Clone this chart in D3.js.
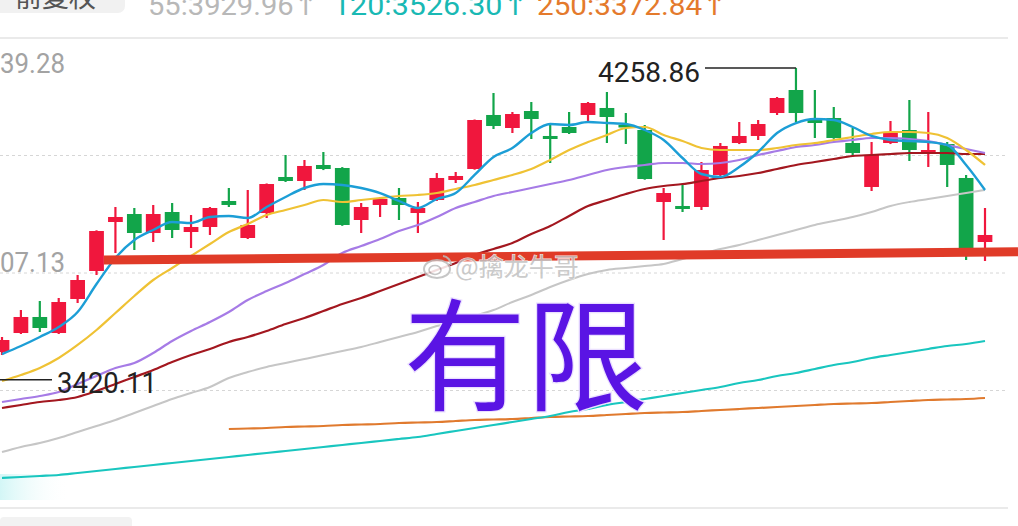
<!DOCTYPE html>
<html><head><meta charset="utf-8">
<script src="https://cdn.jsdelivr.net/npm/d3@7"></script>
<style>html,body{margin:0;padding:0;background:#fff;overflow:hidden}</style>
</head><body><svg id="c" width="1018" height="526"></svg>
<script>
// ---------- data ----------
const candleOpen = [3494.6,3545.7,3588.8,3545.7,3637.2,3712.5,3844.3,3865.8,3814.7,3871.2,3817.4,3830.9,3900.8,3801.3,3868.5,3965.4,3954.6,3997.7,3989.6,3849.7,3890.1,3908.9,3868.5,3903.5,3957.3,3986.9,4132.2,4097.2,4142.9,4075.7,4099.9,4132.2,4151.0,4105.3,4091.8,3898.1,3887.4,3884.7,3970.8,4056.8,4075.7,4137.5,4199.4,4121.4,4124.1,4056.8,3938.5,4056.8,4091.8,4032.6,4054.1,3962.7,3790.5];
const candleHigh = [3535.0,3607.6,3631.8,3639.9,3701.8,3822.0,3884.7,3882.0,3890.1,3895.4,3863.2,3884.7,3935.8,3930.4,3948.0,4024.6,4011.1,4032.6,3992.0,3895.4,3911.6,3935.8,3898.1,3976.1,3978.8,4120.0,4191.3,4140.2,4167.1,4110.6,4140.2,4167.1,4194.0,4137.5,4105.3,3935.8,3943.9,4005.7,4056.8,4113.3,4118.7,4180.6,4258.86,4199.4,4153.7,4097.2,4059.5,4116.0,4172.5,4140.2,4059.5,3970.8,3882.0];
const candleLow = [3486.6,3543.0,3548.4,3543.0,3626.4,3701.8,3760.9,3769.0,3790.5,3801.3,3774.4,3809.4,3884.7,3798.6,3855.1,3952.0,3930.4,3984.0,3834.0,3814.7,3857.8,3849.7,3814.7,3900.8,3949.2,3985.0,4094.5,4083.7,4067.6,4003.0,4081.0,4113.3,4056.8,4054.1,3958.0,3795.9,3871.2,3876.6,3962.7,4054.0,4064.9,4132.2,4113.3,4070.3,4068.0,4021.9,3927.7,4054.0,4008.4,3992.3,3938.5,3742.1,3739.4];
const candleClose = [3526.9,3588.8,3559.2,3629.1,3688.3,3820.1,3857.8,3814.7,3865.8,3822.8,3830.9,3882.0,3890.1,3836.3,3946.5,3954.6,3995.0,3986.9,3836.3,3884.7,3906.2,3890.1,3882.0,3962.7,3968.1,4118.7,4102.6,4134.8,4121.4,4067.6,4083.7,4164.4,4126.8,4099.9,3960.0,3922.3,3879.3,3984.2,4048.8,4075.7,4107.9,4177.9,4137.5,4110.6,4070.3,4029.9,4024.6,4086.4,4038.0,4038.0,3997.7,3774.4,3809.4];

const ma5 = [3489.2,3510.8,3535.0,3561.9,3602.2,3677.5,3747.5,3795.9,3822.8,3844.3,3841.6,3857.8,3860.5,3855.1,3884.7,3911.6,3935.8,3946.5,3943.9,3935.8,3922.3,3900.8,3882.0,3906.2,3922.3,3970.8,4019.2,4043.4,4083.7,4107.9,4105.3,4113.3,4110.6,4107.9,4091.8,4064.9,4016.5,3973.4,3965.4,3992.3,4032.6,4083.7,4110.6,4121.4,4118.7,4099.9,4075.7,4064.9,4062.2,4059.5,4051.5,3997.7,3930.4];
const ma10 = [3416.6,3432.8,3451.6,3478.5,3513.5,3553.8,3599.5,3645.3,3688.3,3720.6,3752.9,3785.1,3817.4,3838.9,3863.2,3876.6,3890.1,3903.5,3898.1,3903.5,3908.9,3914.3,3917.0,3922.3,3933.1,3943.9,3957.3,3970.8,3986.9,4011.1,4038.0,4059.5,4078.4,4097.2,4099.9,4078.4,4062.2,4043.4,4038.0,4038.0,4038.0,4043.4,4051.5,4056.8,4064.9,4073.0,4081.0,4086.4,4086.4,4083.7,4070.3,4038.0,3997.7];
const ma20 = [3360.1,3368.2,3376.3,3387.0,3408.5,3430.1,3451.6,3465.0,3491.9,3524.2,3551.1,3575.3,3602.2,3634.5,3658.7,3680.2,3704.4,3728.7,3760.9,3779.8,3798.6,3820.1,3836.3,3857.8,3882.0,3898.1,3914.3,3925.0,3935.8,3946.5,3957.3,3970.8,3984.2,3992.3,3997.7,4003.0,4003.0,4000.3,4003.0,4011.1,4024.6,4035.3,4046.1,4051.5,4059.5,4064.9,4070.3,4070.3,4067.6,4062.2,4051.5,4040.7,4029.9];
const ma30 = [3344.0,3352.1,3360.1,3365.5,3373.6,3389.7,3408.5,3427.4,3446.2,3467.7,3486.6,3502.7,3521.5,3535.0,3551.1,3569.9,3586.1,3604.9,3623.7,3639.9,3658.7,3677.5,3696.4,3715.2,3734.0,3755.6,3771.7,3787.8,3812.0,3833.6,3860.5,3887.4,3903.5,3919.6,3933.1,3941.2,3946.5,3954.6,3962.7,3968.1,3976.1,3986.9,3997.7,4005.7,4013.8,4021.9,4024.6,4027.2,4029.9,4029.9,4029.9,4027.2,4027.2];
const ma55 = [3225.6,3239.1,3249.8,3263.3,3279.4,3295.6,3311.7,3330.5,3349.4,3368.2,3384.3,3400.5,3424.7,3440.8,3454.3,3465.0,3475.8,3486.6,3497.3,3508.1,3521.5,3535.0,3548.4,3564.6,3578.0,3591.5,3607.6,3629.1,3648.0,3669.5,3688.3,3704.4,3715.2,3720.6,3726.0,3731.3,3744.8,3758.2,3771.7,3782.5,3795.9,3809.4,3822.8,3836.3,3847.0,3857.8,3871.2,3887.4,3898.1,3906.2,3914.3,3922.3,3930.4];
const ma120 = [3155.7,3158.4,3161.1,3163.8,3169.1,3174.5,3179.9,3185.3,3190.7,3196.0,3201.4,3206.8,3212.2,3217.6,3222.9,3228.3,3233.7,3239.1,3244.5,3249.8,3255.2,3260.6,3266.0,3274.0,3282.1,3290.2,3298.3,3306.3,3314.4,3322.5,3333.2,3341.3,3352.1,3360.1,3368.2,3376.3,3384.3,3392.4,3400.5,3411.2,3419.3,3430.1,3438.1,3448.9,3459.7,3467.7,3478.5,3486.6,3494.6,3502.7,3510.8,3516.1,3524.2];
const ma250 = [null,null,null,null,null,null,null,null,null,null,null,null,3287.5,3288.8,3290.2,3292.9,3294.2,3295.6,3298.3,3299.6,3300.9,3303.6,3305.0,3306.3,3309.0,3311.7,3313.0,3314.4,3317.1,3319.8,3321.1,3322.5,3325.2,3327.8,3330.5,3331.9,3333.2,3335.9,3338.6,3341.3,3344.0,3346.7,3349.4,3352.1,3354.7,3356.1,3357.4,3360.1,3362.8,3365.5,3366.8,3368.2,3370.9];

const yTicks = [4339.28, 4023.21, 3707.13, 3391.06, 3074.99];
const maHeader = ["55:3929.96\u2191", "120:3526.30\u2191", "250:3372.84\u2191"];
const headerTag = "前复权";
const peakLabel = 4258.86;
const lowLabel = 3420.11;
const supportLevel = [3742, 3764];
const bigText = "有限";
const watermark = "@擒龙牛哥";

// ---------- drawing ----------
const W = 1018, H = 526;
const svg = d3.select("#c");
const n = candleOpen.length;
const x = d3.scaleBand().domain(d3.range(n)).range([-7.45, 994.45]).paddingInner(0.22).paddingOuter(0.11);
const bw = x.bandwidth();
const cx = i => x(i) + bw / 2;
const y = d3.scaleLinear().domain([3074.99, 4339.28]).range([508, 38]);

const RED = "#f0173d", GREEN = "#12a54a";
const FONT = "Roboto, 'DejaVu Sans', sans-serif";

// header
svg.append("rect").attr("x", -10).attr("y", -20).attr("width", 135).attr("height", 33).attr("rx", 7).attr("fill", "#f1f1f1");
svg.append("text").attr("x", 96).attr("y", 7).attr("text-anchor", "end").attr("font-family", "'Noto Sans CJK SC', sans-serif")
  .attr("font-size", 27).attr("fill", "#555").text(headerTag);
const hdrColors = ["#b8b8b8", "#19b9b4", "#e47a2c"];
const hdrX = [148, 333, 537], hdrW = [170, 195, 190];
maHeader.forEach((t, k) => {
  svg.append("text").attr("x", hdrX[k]).attr("y", 15).attr("font-family", FONT).attr("font-size", 28)
    .attr("textLength", hdrW[k]).attr("lengthAdjust", "spacingAndGlyphs").attr("fill", hdrColors[k]).text(t);
});

// grid
yTicks.forEach((v, k) => {
  const solid = k === 0 || k === yTicks.length - 1;
  svg.append("line").attr("x1", 0).attr("x2", 1008).attr("y1", y(v)).attr("y2", y(v))
    .attr("stroke", solid ? "#e3e3e3" : "#d6d6d6").attr("stroke-width", solid ? 1.5 : 1)
    .attr("stroke-dasharray", solid ? null : "3,3");
});
// axis labels (cut at left edge)
svg.append("text").attr("x", -29).attr("y", y(yTicks[0]) + 35).attr("font-family", FONT).attr("font-size", 28)
  .attr("textLength", 94).attr("lengthAdjust", "spacingAndGlyphs").attr("fill", "#a3a3a3").text(yTicks[0].toFixed(2));
svg.append("text").attr("x", -29).attr("y", y(yTicks[2]) - 1).attr("font-family", FONT).attr("font-size", 28)
  .attr("textLength", 94).attr("lengthAdjust", "spacingAndGlyphs").attr("fill", "#a3a3a3").text(yTicks[2].toFixed(2));

// bottom-left artifacts
const grad = svg.append("defs").append("linearGradient").attr("id", "cy").attr("x1", 0).attr("x2", 1);
grad.append("stop").attr("offset", 0).attr("stop-color", "#c8f4f4");
grad.append("stop").attr("offset", 1).attr("stop-color", "#ffffff").attr("stop-opacity", 0);
svg.append("rect").attr("x", 0).attr("y", 474).attr("width", 70).attr("height", 26).attr("fill", "url(#cy)").attr("opacity", 0.8);
svg.append("rect").attr("x", 0).attr("y", 517).attr("width", 132).attr("height", 12).attr("rx", 4).attr("fill", "#f2f2f2");

const line = d3.line().defined(d => d != null).x((d, i) => cx(i)).y(d => y(d)).curve(d3.curveMonotoneX);
const drawMA = (arr, color, w) => svg.append("path").datum(arr).attr("d", line).attr("fill", "none")
  .attr("stroke", color).attr("stroke-width", w).attr("stroke-linejoin", "round");

drawMA(ma250, "#e07a2e", 2.2);
drawMA(ma120, "#19c6bf", 2.2);

// candles
const g = svg.append("g");
d3.range(n).forEach(i => {
  const o = candleOpen[i], c = candleClose[i];
  const col = c >= o ? RED : GREEN;
  g.append("line").attr("x1", cx(i)).attr("x2", cx(i)).attr("y1", y(candleHigh[i])).attr("y2", y(candleLow[i]))
    .attr("stroke", col).attr("stroke-width", 2.2);
  const top = y(Math.max(o, c)), bot = y(Math.min(o, c));
  g.append("rect").attr("x", x(i)).attr("y", top).attr("width", bw).attr("height", Math.max(2.5, bot - top)).attr("fill", col);
});

drawMA(ma55, "#c6c6c6", 2);
drawMA(ma30, "#a3171f", 2.2);
drawMA(ma20, "#a67be6", 2.2);
drawMA(ma10, "#efc234", 2.2);
drawMA(ma5, "#1c9ed6", 2.4);

// peak/low markers
const iPeak = candleHigh.indexOf(peakLabel);
svg.append("line").attr("x1", 705).attr("x2", cx(iPeak)).attr("y1", y(peakLabel)).attr("y2", y(peakLabel)).attr("stroke", "#222").attr("stroke-width", 1.5);
svg.append("text").attr("x", 598).attr("y", y(peakLabel) + 14).attr("font-family", FONT).attr("font-size", 28)
  .attr("textLength", 102).attr("lengthAdjust", "spacingAndGlyphs").attr("fill", "#222").text(peakLabel.toFixed(2));
svg.append("line").attr("x1", 0).attr("x2", 52).attr("y1", y(lowLabel)).attr("y2", y(lowLabel)).attr("stroke", "#222").attr("stroke-width", 1.5);
svg.append("text").attr("x", 57).attr("y", y(lowLabel) + 13).attr("font-family", FONT).attr("font-size", 29)
  .attr("textLength", 100).attr("lengthAdjust", "spacingAndGlyphs").attr("fill", "#222").text(lowLabel.toFixed(2));

// support line
svg.append("line").attr("x1", x(5) + bw).attr("x2", W).attr("y1", y(supportLevel[0])).attr("y2", y(supportLevel[1]))
  .attr("stroke", "#e03b28").attr("stroke-width", 9);

// watermark
const wm = svg.append("g").attr("opacity", 0.85);
wm.append("ellipse").attr("cx", 437).attr("cy", 269).attr("rx", 13).attr("ry", 9).attr("fill", "#fff").attr("stroke", "#bdbdbd").attr("stroke-width", 2);
wm.append("ellipse").attr("cx", 435).attr("cy", 270).attr("rx", 6).attr("ry", 4.5).attr("fill", "none").attr("stroke", "#bdbdbd").attr("stroke-width", 1.6);
wm.append("path").attr("d", "M443,256 a9,9 0 0 1 8,9").attr("fill", "none").attr("stroke", "#bdbdbd").attr("stroke-width", 2);
wm.append("text").attr("x", 455).attr("y", 276).attr("font-family", "'Noto Sans CJK SC', sans-serif").attr("font-size", 25)
  .attr("fill", "#c2c2c2").attr("stroke", "#fff").attr("stroke-width", 1.2).attr("paint-order", "stroke").text(watermark);

// big annotation text
svg.append("text").attr("x", 404).attr("y", 401).attr("font-family", "'Noto Sans CJK SC', sans-serif").attr("font-weight", 400)
  .attr("font-size", 122).attr("fill", "#5a14e4").attr("stroke", "#eadfff").attr("stroke-width", 2.5).attr("paint-order", "stroke")
  .text(bigText);
</script></body></html>
